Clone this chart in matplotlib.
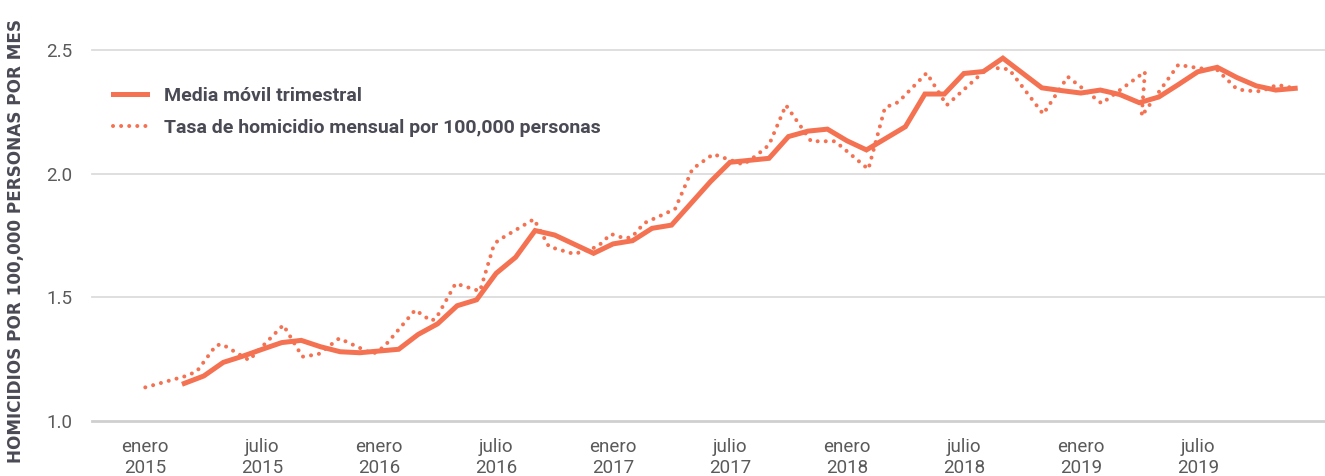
import matplotlib
matplotlib.use("Agg")
import matplotlib.pyplot as plt
from matplotlib.lines import Line2D
from matplotlib import font_manager

# ---------------- data ----------------
# 3-month moving average (solid), months counted from January 2015 (0)
media_meses = list(range(2, 60))
media_valores = [1.152, 1.182, 1.237, 1.262, 1.290, 1.317, 1.326, 1.300, 1.280, 1.276,
                 1.283, 1.290, 1.350, 1.393, 1.466, 1.490, 1.597, 1.662, 1.770, 1.752,
                 1.715, 1.678, 1.716, 1.729, 1.779, 1.792, 1.880, 1.968, 2.046, 2.054,
                 2.062, 2.150, 2.172, 2.180, 2.133, 2.096, 2.143, 2.190, 2.322, 2.322,
                 2.405, 2.413, 2.467, 2.407, 2.347, 2.336, 2.326, 2.338, 2.320, 2.287,
                 2.310, 2.360, 2.412, 2.430, 2.389, 2.355, 2.338, 2.345]

# monthly homicide rate (dotted), positions in months
tasa_meses = [0.0, 2.0, 2.64, 3.63, 3.95, 5.32, 7.08, 8.06, 8.88, 9.95,
              11.68, 12.25, 13.85, 14.66, 14.92, 15.92, 17.17, 17.86, 18.08, 19.94,
              20.71, 22.01, 23.21, 23.89, 24.58, 24.96, 25.60, 27.18, 28.07, 29.14,
              30.68, 31.33, 32.0, 32.87, 34.16, 35.39, 37.10, 37.95, 38.63, 40.09,
              41.12, 43.26, 44.32, 46.07, 47.33, 49.07, 51.29, 51.12, 53.0, 54.11,
              54.99, 55.97, 56.39, 57.24, 58.08, 58.99]
tasa_valores = [1.136, 1.180, 1.200, 1.306, 1.310, 1.246, 1.388, 1.260, 1.270, 1.334,
                1.271, 1.300, 1.449, 1.405, 1.415, 1.556, 1.525, 1.705, 1.729, 1.816,
                1.705, 1.675, 1.705, 1.756, 1.739, 1.743, 1.800, 1.857, 2.019, 2.079,
                2.037, 2.072, 2.116, 2.277, 2.131, 2.131, 2.018, 2.267, 2.289, 2.407,
                2.277, 2.430, 2.422, 2.241, 2.392, 2.284, 2.412, 2.233, 2.440, 2.426,
                2.420, 2.345, 2.336, 2.333, 2.359, 2.345]

tick_meses = [0, 6, 12, 18, 24, 30, 36, 42, 48, 54]
tick_etiquetas = ["enero\n2015", "julio\n2015", "enero\n2016", "julio\n2016",
                  "enero\n2017", "julio\n2017", "enero\n2018", "julio\n2018",
                  "enero\n2019", "julio\n2019"]
y_ticks = [1.0, 1.5, 2.0, 2.5]
y_etiquetas = ["1.0", "1.5", "2.0", "2.5"]

leyenda_media = "Media móvil trimestral"
leyenda_tasa = "Tasa de homicidio mensual por 100,000 personas"
titulo_y = "HOMICIDIOS POR 100,000 PERSONAS POR MES"

# ---------------- style ----------------
installed = {f.name for f in font_manager.fontManager.ttflist}
def pick(*names):
    return [n for n in names if n in installed] + ["DejaVu Sans"]

tick_font = pick("Liberation Sans Narrow", "Roboto", "Lato")
legend_font = pick("Roboto", "Lato")

COLOR = "#F47252"
TEXT_GRAY = "#5a5a5a"
DARK = "#4a4a55"

W, H = 1325, 476
fig = plt.figure(figsize=(W / 100, H / 100), dpi=100)

left_px, right_px = 92, 1325
top_px, bottom_px = 50, 421
ax = fig.add_axes([left_px / W, 1 - bottom_px / H,
                   (right_px - left_px) / W, (bottom_px - top_px) / H])

m0_px, step_px = 145.3, 19.49
ax.set_xlim((left_px - m0_px) / step_px, (right_px - m0_px) / step_px)
ax.set_ylim(1.0, 2.5)

# gridlines
for yv in y_ticks:
    if yv == 1.0:
        ax.axhline(yv, color="#cfcfcf", lw=2.0, zorder=1, clip_on=False)
    else:
        ax.axhline(yv, color="#dcdcdc", lw=1.3, zorder=1, clip_on=False)

ax.plot(tasa_meses, tasa_valores, color=COLOR, lw=2.9,
        linestyle=(0, (0.01, 2.0)), dash_capstyle="round",
        solid_capstyle="round", zorder=2, clip_on=False)
ax.plot(media_meses, media_valores, color=COLOR, lw=3.6,
        solid_joinstyle="miter", zorder=3, clip_on=False)

for s in ax.spines.values():
    s.set_visible(False)

ax.set_xticks(tick_meses)
ax.set_xticklabels(tick_etiquetas, family=tick_font, fontsize=13.5,
                   color=TEXT_GRAY, linespacing=1.25)
ax.set_yticks(y_ticks)
ax.set_yticklabels(y_etiquetas, family=tick_font, fontsize=13.5,
                   color=TEXT_GRAY)
ax.tick_params(axis="both", length=0)
ax.tick_params(axis="x", pad=12)
ax.tick_params(axis="y", pad=14)

fig.text(16 / W, 1 - 241 / H, titulo_y, rotation=90, ha="center", va="center",
         fontsize=12.2, fontweight="bold", color=DARK, family="DejaVu Sans")

handles = [Line2D([], [], color=COLOR, lw=3.6),
           Line2D([], [], color=COLOR, lw=2.9, linestyle=(0, (0.01, 2.0)),
                  dash_capstyle="round")]
leg = fig.legend(handles, [leyenda_media, leyenda_tasa], loc="upper left",
                 bbox_to_anchor=(113 / W, 1 - 87 / H), frameon=False,
                 borderpad=0, borderaxespad=0, handlelength=1.75,
                 handletextpad=0.85, labelspacing=0.7,
                 prop={"family": legend_font, "weight": "bold", "size": 14})
for t in leg.get_texts():
    t.set_color(DARK)

fig.savefig("out.png", dpi=100)
